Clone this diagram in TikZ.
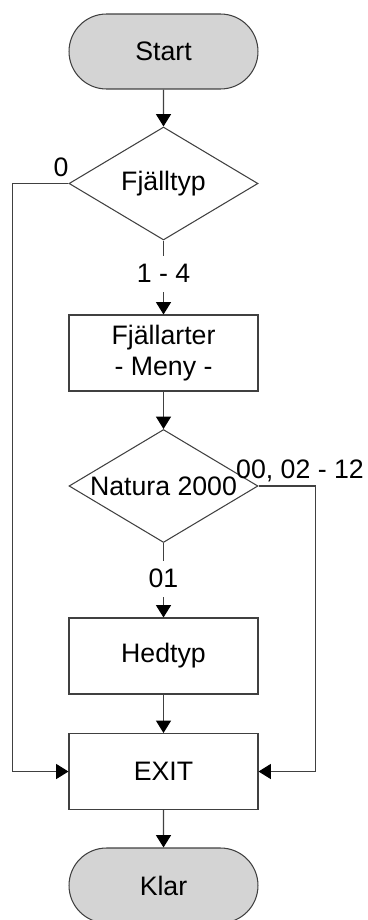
\documentclass[tikz,border=0pt]{standalone}
\usepackage{fontspec}
\setmainfont{Liberation Sans}
\usepackage{tikz}
\usetikzlibrary{arrows.meta,shapes.geometric,shapes.misc}

\begin{document}
\begin{tikzpicture}[x=0.02cm,y=-0.02cm,>={Triangle[length=7pt,width=8.5pt,color=black]},
  every node/.style={font=\fontsize{15.2}{18}\selectfont},
  term/.style={rounded rectangle,draw=black!75,fill=black!17,line width=0.6pt,minimum width=3.78cm,minimum height=1.5cm,inner sep=0pt},
  box/.style={rectangle,draw=black!75,line width=0.6pt,minimum width=3.78cm,minimum height=1.52cm,align=center,inner sep=0pt},
  choice/.style={diamond,draw=black!75,line width=0.6pt,minimum width=3.78cm,minimum height=2.26cm,inner sep=0pt,aspect=1.67},
  flow/.style={->,draw=black!75,line width=0.6pt},
  cut/.style={fill=white,inner xsep=2pt,inner ysep=5pt}]
  \useasboundingbox (0,0) rectangle (368,920);
  \node[term] (start) at (163.5,51.5) {Start};
  \node[choice] (fjalltyp) at (163.5,183.5) {Fjälltyp};
  \node[box] (arter) at (163.5,353) {Fjällarter\\- Meny -};
  \node[choice] (natura) at (163.5,486) {Natura 2000};
  \node[box] (hedtyp) at (163.5,656) {Hedtyp};
  \node[box] (exit) at (163.5,771.5) {EXIT};
  \node[term] (klar) at (163.5,885.5) {Klar};
  \draw[flow] (start) -- (fjalltyp);
  \draw[flow] (fjalltyp) -- node[cut,pos=0.45] (e14) {1 - 4} (arter);
  \draw[flow] (arter) -- (natura);
  \draw[flow] (natura) -- node[cut,pos=0.48] (e01) {01} (hedtyp);
  \draw[flow] (hedtyp) -- (exit);
  \draw[flow] (exit) -- (klar);
  \draw[flow] (fjalltyp.west) -- ++(-56,0) |- (exit.west);
  \draw[flow] (natura.east) -- ++(57,0) |- (exit.east);
  \node (e0) at (61,167) {0};
  \node (e00) at (300,471) {00, 02 - 12};
\end{tikzpicture}
\end{document}
